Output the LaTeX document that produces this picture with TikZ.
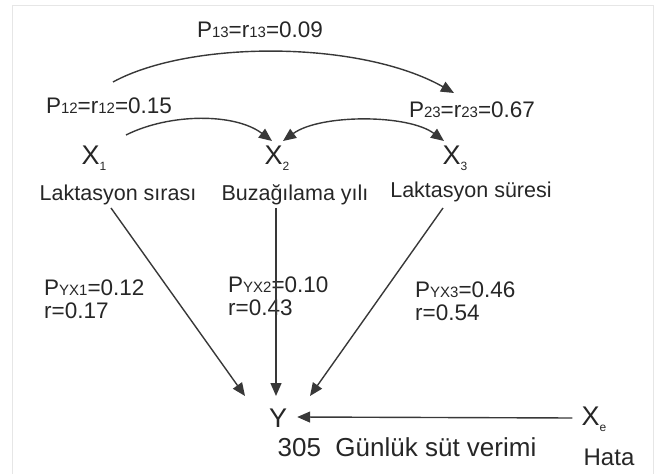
\documentclass[tikz,border=0pt]{standalone}
\usepackage{fontspec}
\setmainfont{Liberation Sans}
\usetikzlibrary{arrows.meta}
\definecolor{ink}{HTML}{262626}
\definecolor{lineink}{HTML}{383838}
\definecolor{frame}{HTML}{E6E6E6}
\newcommand\smallnum[1]{{\fontsize{15bp}{15bp}\selectfont #1}}
\newcommand\xsub[1]{\raisebox{-0.4ex}{\fontsize{12bp}{12bp}\selectfont #1}}
\begin{document}
\begin{tikzpicture}[x=1bp,y=-1bp,
  lbl/.style={inner sep=0pt, text=ink, font=\fontsize{21.5bp}{25bp}\selectfont},
  corr/.style={inner sep=0pt, text=ink, font=\fontsize{22.5bp}{26bp}\selectfont},
  plbl/.style={inner sep=0pt, text=ink, anchor=west, font=\fontsize{22.5bp}{26bp}\selectfont},
  var/.style={inner sep=0pt, text=ink, font=\fontsize{27bp}{30bp}\selectfont},
  bottom/.style={inner sep=0pt, text=ink, font=\fontsize{26bp}{30bp}\selectfont},
  conn/.style={draw=lineink, line width=1.4bp, -{Triangle[length=13bp,width=11bp]}},
  bconn/.style={draw=lineink, line width=1.4bp, {Triangle[length=13bp,width=11bp]}-{Triangle[length=13bp,width=11bp]}}
]
\useasboundingbox (0,0) rectangle (657,474);
\draw[frame, line width=1bp] (12,474) -- (12,6) -- (653,6) -- (653,474);

% labels for correlations
\node[corr] (p13) at (260,30) {P\smallnum{13}=r\smallnum{13}=0.09};
\node[corr] (p12) at (109,106) {P\smallnum{12}=r\smallnum{12}=0.15};
\node[corr] (p23) at (472,110) {P\smallnum{23}=r\smallnum{23}=0.67};

% variables
\node[var] (x1) at (94,158) {X\xsub{1}};
\node[var] (x2) at (277,158) {X\xsub{2}};
\node[var] (x3) at (455,158) {X\xsub{3}};
\node[lbl] (l1) at (118,195) {Laktasyon s\i ras\i};
\node[lbl] (l2) at (295,195) {Buzağılama yılı};
\node[lbl] (l3) at (471,192) {Laktasyon süresi};

\node[var] (y) at (278,418) {Y};
\node[var] (xe) at (594,419) {X\xsub{e}};
\node[bottom] (yl) at (407,447) {305\ \ Günlük süt verimi};
\node[bottom, font=\fontsize{24bp}{28bp}\selectfont] (hata) at (609,457) {Hata};

% path coefficient labels
\node[plbl] (pyx1) at (44,288) {P\smallnum{YX1}=0.12};
\node[plbl] (r1) at (44,311) {r=0.17};
\node[plbl] (pyx2) at (228,285) {P\smallnum{YX2}=0.10};
\node[plbl] (r2) at (228,308) {r=0.43};
\node[plbl] (pyx3) at (415,290) {P\smallnum{YX3}=0.46};
\node[plbl] (r3) at (415,313) {r=0.54};

% connector end points
\coordinate (c13s) at (113,82);
\coordinate (c13e) at (454,93);
\coordinate (c12s) at (126,135);
\coordinate (c12e) at (272,141);
\coordinate (c23s) at (283,141);
\coordinate (c23e) at (444,141);
\coordinate (a1s) at (111,208);
\coordinate (a2s) at (276,208);
\coordinate (a3s) at (443,208);
\coordinate (a1e) at (245,396);
\coordinate (a2e) at (276,396);
\coordinate (a3e) at (310,396);

\draw[conn] (c13s) .. controls (190,40) and (360,40) .. (c13e);
\draw[conn] (c12s) .. controls (170,113) and (235,113) .. (c12e);
\draw[bconn] (c23s) .. controls (320,114) and (408,114) .. (c23e);

\draw[conn] (a1s) -- (a1e);
\draw[conn] (a2s) -- (a2e);
\draw[conn] (a3s) -- (a3e);
\draw[conn] ([xshift=-9bp,yshift=1bp]xe.west) -- ([xshift=10bp,yshift=1bp]y.east);
\end{tikzpicture}
\end{document}
